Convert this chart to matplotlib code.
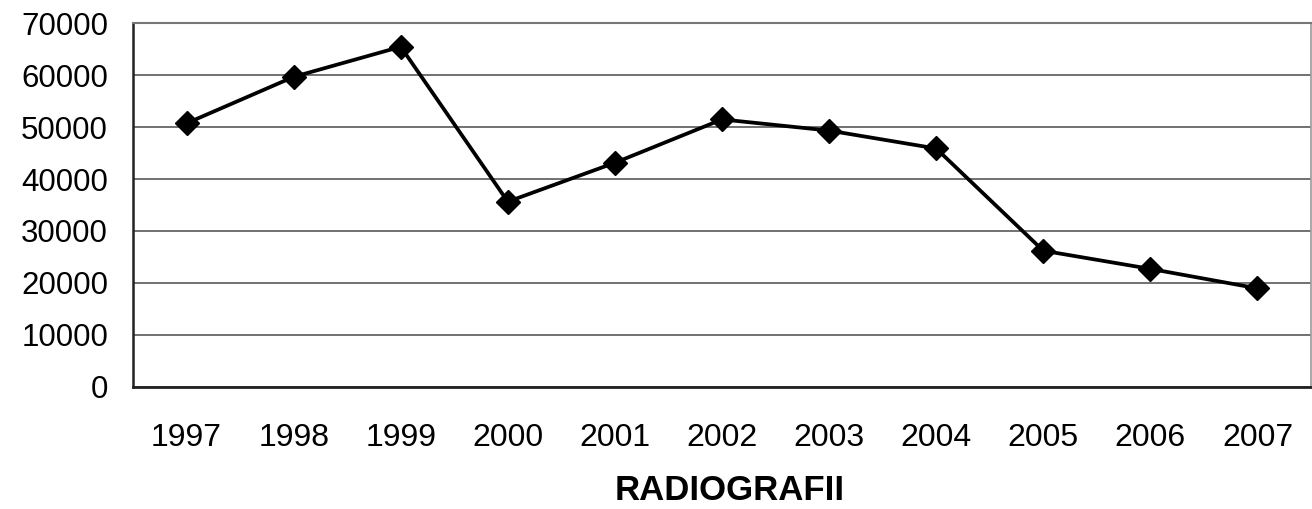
import matplotlib
matplotlib.use("Agg")
import matplotlib.pyplot as plt

years = ["1997", "1998", "1999", "2000", "2001", "2002", "2003", "2004", "2005", "2006", "2007"]
values = [50750, 59700, 65500, 35650, 43150, 51500, 49350, 45900, 26200, 22700, 18950]
y_ticks = [0, 10000, 20000, 30000, 40000, 50000, 60000, 70000]
x_title = "RADIOGRAFII"

plt.rcParams['font.family'] = ['Liberation Sans', 'DejaVu Sans']

fig = plt.figure(figsize=(13.12, 5.09), dpi=100)
ax = fig.add_axes([133/1312, 1 - 386.7/509, (1311 - 133)/1312, (386.7 - 23.4)/509])

x = list(range(len(years)))
ax.plot(x, values, color='black', linewidth=2.7, marker='D', markersize=12,
        markerfacecolor='black', markeredgecolor='black', zorder=5, clip_on=False)

ax.set_xlim(-0.5, len(years) - 0.5)
ax.set_ylim(0, 70000)
ax.set_yticks(y_ticks)
ax.set_yticklabels([str(v) for v in y_ticks])
ax.set_xticks(x)
ax.set_xticklabels(years)
ax.tick_params(axis='y', length=0, labelsize=22.5, colors='black', pad=18)
ax.tick_params(axis='x', length=0, labelsize=23, colors='black', pad=26)

ax.yaxis.grid(True, color='#4a4a4a', linewidth=1.1)
ax.set_axisbelow(True)

ax.spines['left'].set_color('#222222')
ax.spines['left'].set_linewidth(1.8)
ax.spines['bottom'].set_color('#222222')
ax.spines['bottom'].set_linewidth(2.0)
ax.spines['top'].set_color('#777777')
ax.spines['top'].set_linewidth(1.5)
ax.spines['top'].set_linestyle((0, (2, 1)))
ax.spines['right'].set_color('#999999')
ax.spines['right'].set_linewidth(1.2)

fig.text(730/1312, 1 - 490/509, x_title, ha='center', va='center',
         fontsize=25, fontweight='bold', color='black')

fig.savefig("out.png", dpi=100, facecolor='white')
